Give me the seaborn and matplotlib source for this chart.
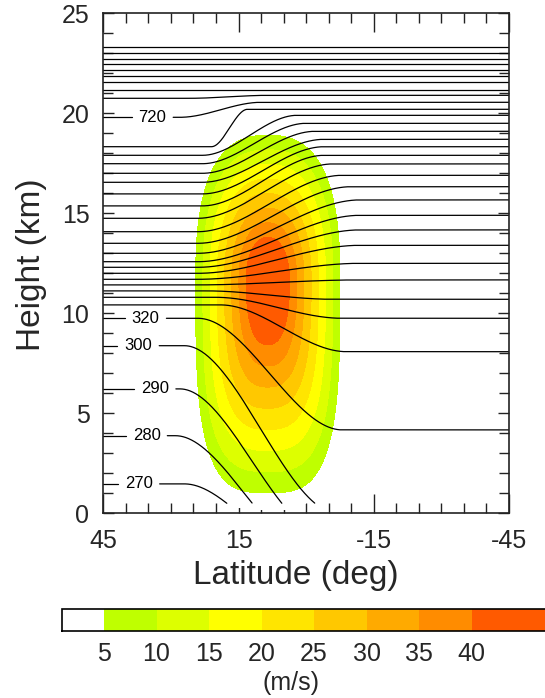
import numpy as np
import pandas as pd
import matplotlib
matplotlib.use("Agg")
import matplotlib.pyplot as plt
import seaborn as sns
from matplotlib.ticker import MultipleLocator

# ---------------- data ----------------
LAT_TICKS = [45, 15, -15, -45]
LAT_TICK_LABELS = ["45", "15", "-15", "-45"]
HEIGHT_TICKS = [0, 5, 10, 15, 20, 25]

SPEED_LEVELS = [1, 5, 10, 15, 20, 25, 30, 35, 40, 60]
SPEED_COLORS = ["#FFFFFF", "#BFFF00", "#DDFF00", "#FFFF00", "#FFE500",
                "#FFC800", "#FFAA00", "#FF8C00", "#FF5A00"]
SPEED_TICKS = [5, 10, 15, 20, 25, 30, 35, 40]

# idealised jet (m/s): centre, peak, extent where speed reaches zero,
# contour squareness at the jet edge (2 = ellipse at the core)
JET_LAT = 8.5
JET_HEIGHT = 11.6
JET_PEAK = 55.0
JET_LAT_RADIUS = 17.6
JET_DEPTH_BELOW = 11.63
JET_DEPTH_ABOVE = 8.03
JET_EDGE_SHAPE_BELOW = 3.3
JET_EDGE_SHAPE_ABOVE = 2.6

# isentropes (K): height at 45N, height at 45S, latitudes where the bend starts / ends
THETA = [270, 280, 290, 300, 320, 340, 360, 380, 400, 420, 440, 460, 480, 500,
         520, 540, 560, 580, 600, 620, 640, 660, 680, 700, 720, 740, 760, 780,
         800, 820, 840, 860, 880, 900]
Z_NORTH = [1.47, 3.88, 6.22, 8.38, 9.75, 10.42, 10.80, 11.12, 11.42, 11.70,
           12.00, 12.30, 12.58, 13.00, 13.50, 14.08, 14.75, 15.37, 15.97, 16.55,
           17.00, 17.48, 17.90, 18.33, 19.80, 20.75, 21.17, 21.55, 21.87, 22.17,
           22.45, 22.73, 23.03, 23.30]
Z_SOUTH = [-2.0, -2.0, -1.0, 0.0, 4.17, 8.08, 9.75, 10.70, 11.67, 12.50,
           13.40, 14.17, 14.90, 15.67, 16.33, 16.90, 17.47, 17.90, 18.33, 18.70,
           19.10, 19.50, 19.90, 20.20, 20.55, 20.90, 21.17, 21.55, 21.87, 22.17,
           22.45, 22.73, 23.03, 23.30]
BEND_NORTH = [27, 29, 28, 27, 24, 19, 20, 22, 24, 24, 24, 24, 24, 24,
              24, 24, 24, 23, 23, 23, 23, 23, 23, 21, 28, 26, 26, 26,
              26, 26, 26, 26, 26, 26]
BEND_SOUTH = [0, -2, -4, -7, -8, -9, -8, -6, -12, -12, -12, -12, -12, -12,
              -10, -8, -6, -4, -4, -4, -2, 0, 2, 13, 10, 8, 8, 8,
              8, 8, 8, 8, 8, 8]
GROUND = 0.5  # lowest model level (km)

LABEL_THETA = [270, 280, 290, 300, 320, 720]
LABEL_LAT = [37.1, 35.4, 33.5, 37.2, 35.6, 34.1]
LABEL_GAP = 4.6

# ---------------- figure ----------------
sns.set_style("ticks")
plt.rcParams["font.family"] = ["Liberation Sans", "DejaVu Sans"]

fig = plt.figure(figsize=(5.45, 6.98), dpi=100)
ax = fig.add_axes([103.3 / 545, 1 - 513.3 / 698, 405.7 / 545, 500 / 698])

# wind speed field
lat_grid = np.linspace(-45, 45, 451)
z_grid = np.linspace(0, 25, 401)
LAT, Z = np.meshgrid(lat_grid, z_grid)
dz = Z - JET_HEIGHT
depth = np.where(dz < 0, JET_DEPTH_BELOW, JET_DEPTH_ABOVE)
p_edge = np.where(dz < 0, JET_EDGE_SHAPE_BELOW, JET_EDGE_SHAPE_ABOVE)
ax_lat = np.abs((LAT - JET_LAT) / JET_LAT_RADIUS)
ax_z = np.abs(dz / depth)
r_ell = np.sqrt(ax_lat ** 2 + ax_z ** 2)
pw = 2 + (p_edge - 2) * np.clip(r_ell, 0, 1)
r = (ax_lat ** pw + ax_z ** pw) ** (1 / pw)
U = np.clip(JET_PEAK * (1 - r), 0, None)
cf = ax.contourf(lat_grid, z_grid, U, levels=SPEED_LEVELS, colors=SPEED_COLORS)

# isentropes
lat_line = np.linspace(45, -45, 901)
frames = []
seg_id = 0
for th, zn, zs, bn, bs in zip(THETA, Z_NORTH, Z_SOUTH, BEND_NORTH, BEND_SOUTH):
    t = np.clip((bn - lat_line) / (bn - bs), 0, 1)
    s = t * t * (3 - 2 * t)
    z = zn + (zs - zn) * s
    keep = z >= GROUND
    if th in LABEL_THETA:
        lc = LABEL_LAT[LABEL_THETA.index(th)]
        keep &= np.abs(lat_line - lc) > LABEL_GAP
    idx = np.where(keep)[0]
    if len(idx) == 0:
        continue
    breaks = np.where(np.diff(idx) > 1)[0] + 1
    for part in np.split(idx, breaks):
        frames.append(pd.DataFrame({"lat": lat_line[part], "height": z[part],
                                    "seg": seg_id}))
        seg_id += 1
lines = pd.concat(frames, ignore_index=True)
sns.lineplot(data=lines, x="lat", y="height", units="seg", estimator=None,
             color="black", linewidth=0.9, ax=ax, legend=False)

for th, lc in zip(LABEL_THETA, LABEL_LAT):
    k = THETA.index(th)
    ax.text(lc, Z_NORTH[k], str(th), fontsize=12, ha="center", va="center",
            color="black")

ax.set_xlim(45, -45)
ax.set_ylim(0, 25)
ax.set_xticks(LAT_TICKS)
ax.set_xticklabels(LAT_TICK_LABELS)
ax.set_yticks(HEIGHT_TICKS)
ax.xaxis.set_minor_locator(MultipleLocator(5))
ax.yaxis.set_minor_locator(MultipleLocator(1))
ax.tick_params(which="both", direction="in", top=True, right=True,
               color="#222222", width=1.0, labelsize=18)
ax.tick_params(axis="x", which="major", length=14, pad=11)
ax.tick_params(axis="y", which="major", length=8, pad=10)
ax.tick_params(which="minor", length=7)
for sp in ax.spines.values():
    sp.set_color("#222222")
    sp.set_linewidth(1.2)
ax.set_xlabel("Latitude (deg)", fontsize=24)
ax.set_ylabel("Height (km)", fontsize=24)
ax.xaxis.set_label_coords(0.475, -0.093)
ax.yaxis.set_label_coords(-0.14, 0.497)

# colour bar (extends past the right edge as in the reference)
cb_left = 62.0
cb_px_per_unit = 10.5
cb_width = (SPEED_LEVELS[-1] - SPEED_LEVELS[0]) * cb_px_per_unit
cax = fig.add_axes([cb_left / 545, 1 - 631 / 698, cb_width / 545, 22 / 698])
cb = fig.colorbar(cf, cax=cax, orientation="horizontal", spacing="proportional")
cb.set_ticks(SPEED_TICKS)
cb.ax.tick_params(length=0, labelsize=18, pad=8)
cb.outline.set_linewidth(1.2)
cb.outline.set_edgecolor("black")
fig.text(291 / 545, 1 - 683 / 698, "(m/s)", fontsize=18, ha="center", va="center")

fig.savefig("out.png", dpi=100)
